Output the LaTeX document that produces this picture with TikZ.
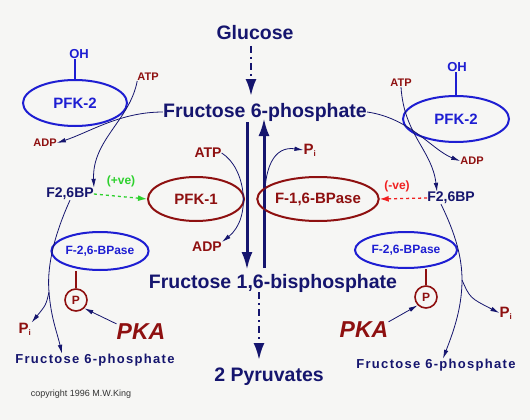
\documentclass[tikz,border=0pt]{standalone}
\usepackage{fontspec}
\setmainfont{Liberation Sans}
\usetikzlibrary{arrows.meta,shapes.geometric}
\definecolor{navy}{HTML}{15156E}
\definecolor{dred}{HTML}{8E1010}
\definecolor{eblue}{HTML}{1E1ED2}
\definecolor{vgreen}{HTML}{2ED12E}
\definecolor{vred}{HTML}{F02020}
\definecolor{bg}{HTML}{F6F6F4}
\tikzset{
  txt/.style={inner sep=0pt, font=\bfseries},
  big/.style={txt, navy, font=\fontsize{19.5}{20}\selectfont\bfseries},
  mid/.style={txt, navy, font=\fontsize{14}{15}\selectfont\bfseries},
  smallred/.style={txt, dred, font=\fontsize{11}{12}\selectfont\bfseries},
  midred/.style={txt, dred, font=\fontsize{14}{15}\selectfont\bfseries},
  blueell/.style={ellipse, draw=eblue, line width=2pt, inner sep=0pt},
  redell/.style={ellipse, draw=dred, line width=2pt, inner sep=0pt},
  bigarrow/.style={navy, line width=3pt, -{Latex[length=18pt,width=11pt]}},
  dotarrow/.style={navy, line width=2.5pt, dash pattern=on 7pt off 4pt on 2pt off 4pt, -{Latex[length=17pt,width=11pt]}},
  thin/.style={navy, line width=0.8pt, -{Latex[length=9pt,width=4.5pt]}},
  pcirc/.style={circle, draw=dred, line width=1.6pt, minimum size=22pt, inner sep=0pt, text=dred, font=\fontsize{12}{13}\selectfont\bfseries},
  pka/.style={txt, dred, font=\fontsize{23}{24}\selectfont\bfseries\itshape},
  smallf6p/.style={txt, navy, font=\fontsize{13}{14}\selectfont\bfseries\addfontfeatures{LetterSpace=10}},
  bpase/.style={blueell, text=eblue, font=\fontsize{12}{13}\selectfont\bfseries},
}
\begin{document}
\begin{tikzpicture}[x=1pt,y=-1pt]
\fill[bg] (0,0) rectangle (530,420);
\useasboundingbox (0,0) rectangle (530,420);

% main metabolites
\node[big] (glc) at (255,33) {Glucose};
\node[big] (f6p) at (265,112) {Fructose 6-phosphate};
\node[big] (f16) at (273,283) {Fructose 1,6-bisphosphate};
\node[big] (pyr) at (269,377) {2 Pyruvates};

% central arrows
\coordinate (gs) at (251,46);
\coordinate (ge) at (251,96);
\draw[dotarrow] (gs) -- (ge);
\coordinate (ds) at (247,122);
\coordinate (de) at (247,270);
\draw[bigarrow] (ds) -- (de);
\coordinate (us) at (264,268);
\coordinate (ue) at (264,118);
\draw[bigarrow] (us) -- (ue);
\coordinate (ps) at (259,292);
\coordinate (pe) at (259,360);
\draw[dotarrow] (ps) -- (pe);

% PFK-1 and F-1,6-BPase
\node[redell, minimum width=96pt, minimum height=44pt, text=dred, font=\fontsize{15}{16}\selectfont\bfseries] (pfk1) at (196,199) {PFK-1};
\node[redell, minimum width=107pt, minimum height=44pt, text=dred, font=\fontsize{15}{16}\selectfont\bfseries] (fbp) at (318,199) {F-1,6-BPase};
\node[midred] (atpc) at (208,153) {ATP};
\node[midred] (adpc) at (207,247) {ADP};
\node[txt, dred, font=\fontsize{15}{16}\selectfont\bfseries] (pic) at (310,150) {P\textsubscript{\fontsize{8}{8}\selectfont i}};
\draw[thin] (atpc.east) .. controls (246,168) and (252,218) .. (adpc.north east);
\coordinate (pis) at (265,214);
\draw[thin] (pis) .. controls (262,165) and (275,146) .. (pic.west);

% left side
\node[blueell, minimum width=104pt, minimum height=46pt, text=eblue, font=\fontsize{15}{16}\selectfont\bfseries] (pfk2l) at (75,103) {PFK-2};
\node[txt, eblue, font=\fontsize{13}{14}\selectfont\bfseries] (ohl) at (79,54) {OH};
\draw[eblue, line width=2pt] (pfk2l.north) -- (ohl.south -| pfk2l.north);
\node[smallred] (atpl) at (148,77) {ATP};
\node[smallred] (adpl) at (45,143) {ADP};
\node[mid] (f26l) at (70,194) {F2,6BP};
\node[txt, vgreen, font=\fontsize{12}{13}\selectfont\bfseries] (pvl) at (121,181) {(+ve)};
\draw[vgreen, line width=1.3pt, dashed, -{Latex[length=9pt,width=6pt]}] (f26l.east) -- (pfk1.west);
\draw[thin] (atpl.south west) .. controls (130,120) and (92,140) .. (f26l.north east);
\draw[thin] (f6p.west) .. controls (120,112) and (90,132) .. (adpl.east);

\node[bpase, minimum width=96pt, minimum height=38pt] (bpl) at (100,251) {F-2,6-BPase};
\node[pcirc] (pl) at (76,300) {P};
\draw[dred, line width=2pt] (pl.north) -- (pl.north |- bpl.south);
\node[pka] (pkal) at (141,332) {PKA};
\draw[thin] (pkal.north west) -- (pl.south east);
\node[txt, dred, font=\fontsize{15}{16}\selectfont\bfseries] (pil) at (25,329) {P\textsubscript{\fontsize{8}{8}\selectfont i}};
\node[smallf6p] (f6l) at (95,360) {Fructose 6-phosphate};
\coordinate (bl) at (49,292);
\draw[thin] (f26l.south) .. controls (52,240) and (47,270) .. (bl) .. controls (51,318) and (57,332) .. (f6l.north -| 62,0);
\draw[thin] (bl) .. controls (46,305) .. (pil.north east);

% right side
\node[blueell, minimum width=106pt, minimum height=46pt, text=eblue, font=\fontsize{15}{16}\selectfont\bfseries] (pfk2r) at (456,119) {PFK-2};
\node[txt, eblue, font=\fontsize{13}{14}\selectfont\bfseries] (ohr) at (457,67) {OH};
\draw[eblue, line width=2pt] (pfk2r.north) -- (ohr.south -| pfk2r.north);
\node[smallred] (atpr) at (401,83) {ATP};
\node[smallred] (adpr) at (472,161) {ADP};
\node[mid] (f26r) at (451,198) {F2,6BP};
\node[txt, vred, font=\fontsize{12}{13}\selectfont\bfseries] (nvr) at (397,186) {(-ve)};
\draw[vred, line width=1.3pt, dashed, -{Latex[length=9pt,width=6pt]}] (f26r.west) -- (fbp.east);
\draw[thin] (f6p.east) .. controls (410,118) and (432,150) .. (adpr.west);
\draw[thin] (atpr.south) .. controls (404,135) and (432,150) .. (f26r.north -| 437,0);

\node[bpase, minimum width=102pt, minimum height=36pt] (bpr) at (406,250) {F-2,6-BPase};
\node[pcirc] (pr) at (426,297) {P};
\draw[dred, line width=2pt] (pr.north) -- (pr.north |- bpr.south);
\node[pka] (pkar) at (364,330) {PKA};
\draw[thin] (pkar.north east) -- (pr.south west);
\node[txt, dred, font=\fontsize{15}{16}\selectfont\bfseries] (pir) at (506,313) {P\textsubscript{\fontsize{8}{8}\selectfont i}};
\node[smallf6p] (f6r) at (436,365) {Fructose 6-phosphate};
\coordinate (br) at (462,280);
\draw[thin] (f26r.south -| 441,0) .. controls (456,235) and (462,258) .. (br) .. controls (462,310) and (452,335) .. (f6r.north -| 443,0);
\draw[thin] (br) .. controls (470,298) .. (pir.west);

\node[txt, font=\fontsize{9}{10}\selectfont\mdseries, text=black!80] (copy) at (81,394) {copyright 1996 M.W.King};
\end{tikzpicture}
\end{document}
